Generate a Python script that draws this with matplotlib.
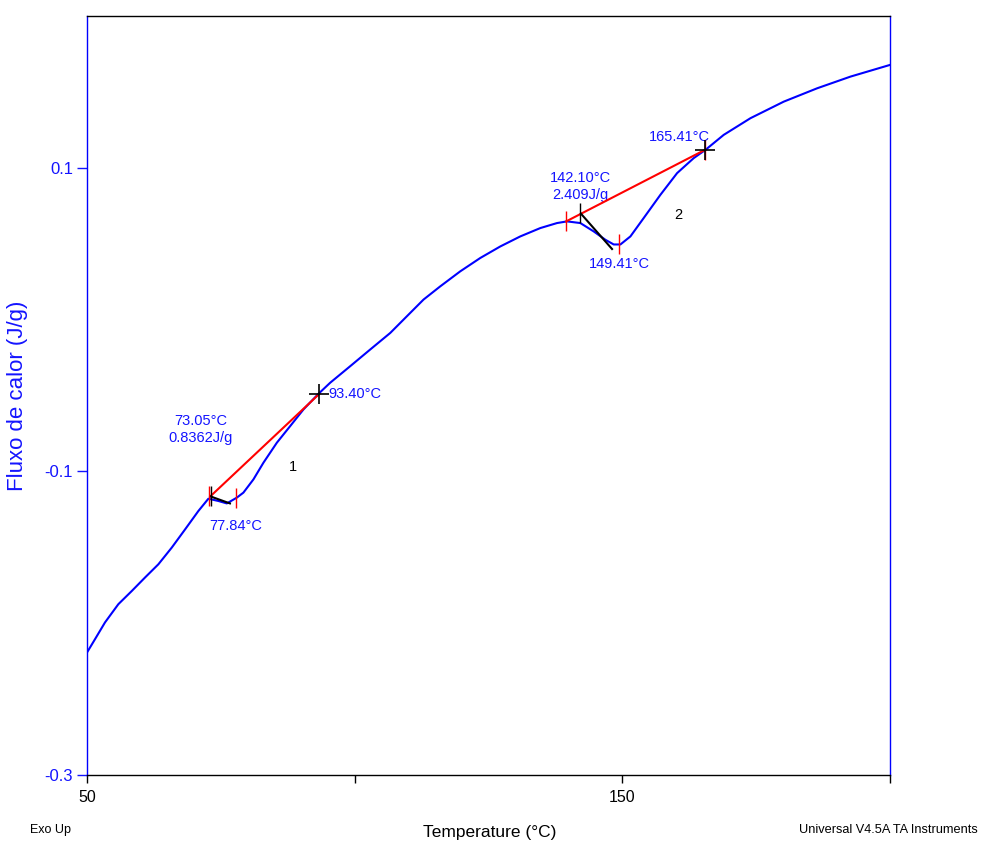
import matplotlib
matplotlib.use('Agg')
import matplotlib.pyplot as plt

# DSC trace
temp = [50.0, 51.50, 53.36, 55.85, 58.36, 60.84, 63.33, 65.83, 68.32, 70.80,
        72.67, 74.54, 76.11, 77.98, 79.21, 81.08, 82.95, 85.46, 87.94, 90.43,
        93.23, 95.42, 99.16, 102.90, 106.64, 110.37, 112.86, 115.98, 119.72,
        123.46, 127.20, 130.93, 134.67, 137.79, 139.66, 142.15, 144.64,
        146.82, 148.38, 149.63, 151.50, 153.98, 157.10, 160.22, 163.33,
        165.51, 168.93, 173.93, 180.15, 186.39, 192.62, 200.0]
heat_flow = [-0.2193, -0.2105, -0.1995, -0.1875, -0.1788, -0.1699, -0.1612,
             -0.1502, -0.1382, -0.1261, -0.1180, -0.1195, -0.1211, -0.1173,
             -0.1140, -0.1053, -0.0943, -0.0811, -0.0702, -0.0592, -0.0489,
             -0.0416, -0.0307, -0.0197, -0.0088, 0.0044, 0.0132, 0.0219,
             0.0318, 0.0406, 0.0482, 0.0548, 0.0603, 0.0636, 0.0647, 0.0636,
             0.0581, 0.0526, 0.0495, 0.0495, 0.0548, 0.0669, 0.0822, 0.0965,
             0.1064, 0.1118, 0.1217, 0.1327, 0.1436, 0.1524, 0.1601, 0.1678]

# peak 1 / peak 2 analysis
base1_t = [73.05, 93.40]
base1_y = [-0.1164, -0.0489]
tang1_t = [73.0, 76.7]
tang1_y = [-0.1164, -0.1211]
red1_t = [72.8, 77.84]
red1_y = [-0.1164, -0.1173]

base2_t = [139.5, 165.41]
base2_y = [0.0647, 0.1118]
tang2_t = [142.28, 148.07]
tang2_y = [0.0697, 0.0465]
red2_t = [139.5, 149.41, 165.41]
red2_y = [0.0647, 0.0495, 0.1118]

black_tick_t = [73.2, 142.1]
black_tick_y = [-0.1164, 0.0704]
cross_t = [93.40, 165.41]
cross_y = [-0.0489, 0.1118]

BLUE = '#1414ff'
SANS = ['Liberation Sans', 'DejaVu Sans']

fig = plt.figure(figsize=(9.81, 8.43), dpi=100)
ax = fig.add_axes([0.0887, 0.0807, 0.8186, 0.9003])

ax.plot(temp, heat_flow, color='#0000ff', lw=1.5, zorder=3)

# baselines and tangents
ax.plot(base1_t, base1_y, color='#ff0000', lw=1.5, zorder=4)
ax.plot(base2_t, base2_y, color='#ff0000', lw=1.5, zorder=4)
ax.plot(tang1_t, tang1_y, color='black', lw=1.5, zorder=4)
ax.plot(tang2_t, tang2_y, color='black', lw=1.5, zorder=4)

ax.plot(red1_t, red1_y, ls='none', marker='|', ms=15, mew=1.0,
        color='#ff0000', zorder=5)
ax.plot(red2_t, red2_y, ls='none', marker='|', ms=15, mew=1.0,
        color='#ff0000', zorder=5)
ax.plot(black_tick_t, black_tick_y, ls='none', marker='|', ms=15,
        mew=1.0, color='black', zorder=6)
ax.plot(cross_t, cross_y, ls='none', marker='+', ms=14, mew=1.2,
        color='black', zorder=6)

# annotations
tk = dict(color=BLUE, fontsize=10.5, family=SANS)
ax.text(71.3, -0.0724, '73.05°C\n0.8362J/g', ha='center', va='center',
        linespacing=1.3, **tk)
ax.text(95.0, -0.049, '93.40°C', ha='left', va='center', **tk)
ax.text(77.84, -0.136, '77.84°C', ha='center', va='center', **tk)
ax.text(142.1, 0.0875, '142.10°C\n2.409J/g', ha='center', va='center',
        linespacing=1.3, **tk)
ax.text(149.41, 0.0364, '149.41°C', ha='center', va='center', **tk)
ax.text(166.4, 0.1204, '165.41°C', ha='right', va='center', **tk)
ax.text(88.5, -0.0974, '1', ha='center', va='center', color='black',
        fontsize=10.5, family=SANS)
ax.text(160.5, 0.0691, '2', ha='center', va='center', color='black',
        fontsize=10.5, family=SANS)

ax.set_xlim(50, 200)
ax.set_ylim(-0.3, 0.2)

ax.set_xticks([50, 100, 150, 200])
ax.set_xticklabels(['50', '', '150', ''])
ax.set_yticks([-0.3, -0.1, 0.1])
ax.set_yticklabels(['-0.3', '-0.1', '0.1'])

ax.tick_params(axis='x', direction='out', length=6, width=1, color='black',
               pad=5, labelsize=11.5)
ax.tick_params(axis='y', direction='out', length=7, width=1, color=BLUE,
               labelcolor=BLUE, pad=3, labelsize=12)
for lbl in ax.get_xticklabels() + ax.get_yticklabels():
    lbl.set_family(SANS)

ax.spines['left'].set_color('#0000ff')
ax.spines['right'].set_color('#0000ff')
ax.spines['top'].set_color('black')
ax.spines['bottom'].set_color('black')
for s in ax.spines.values():
    s.set_linewidth(1.0)

ax.set_ylabel('Fluxo de calor (J/g)', color=BLUE, fontsize=16, family=SANS)
ax.yaxis.set_label_coords(-0.074, 0.5)

fig.text(0.4995, 0.0125, 'Temperature (°C)', ha='center', va='center',
         fontsize=12.5, family=SANS)
fig.text(0.031, 0.0154, 'Exo Up', ha='left', va='center', fontsize=9,
         family=SANS)
fig.text(0.997, 0.0154, 'Universal V4.5A TA Instruments', ha='right',
         va='center', fontsize=9.2, family=SANS)

fig.savefig('out.png', dpi=100, facecolor='white')
